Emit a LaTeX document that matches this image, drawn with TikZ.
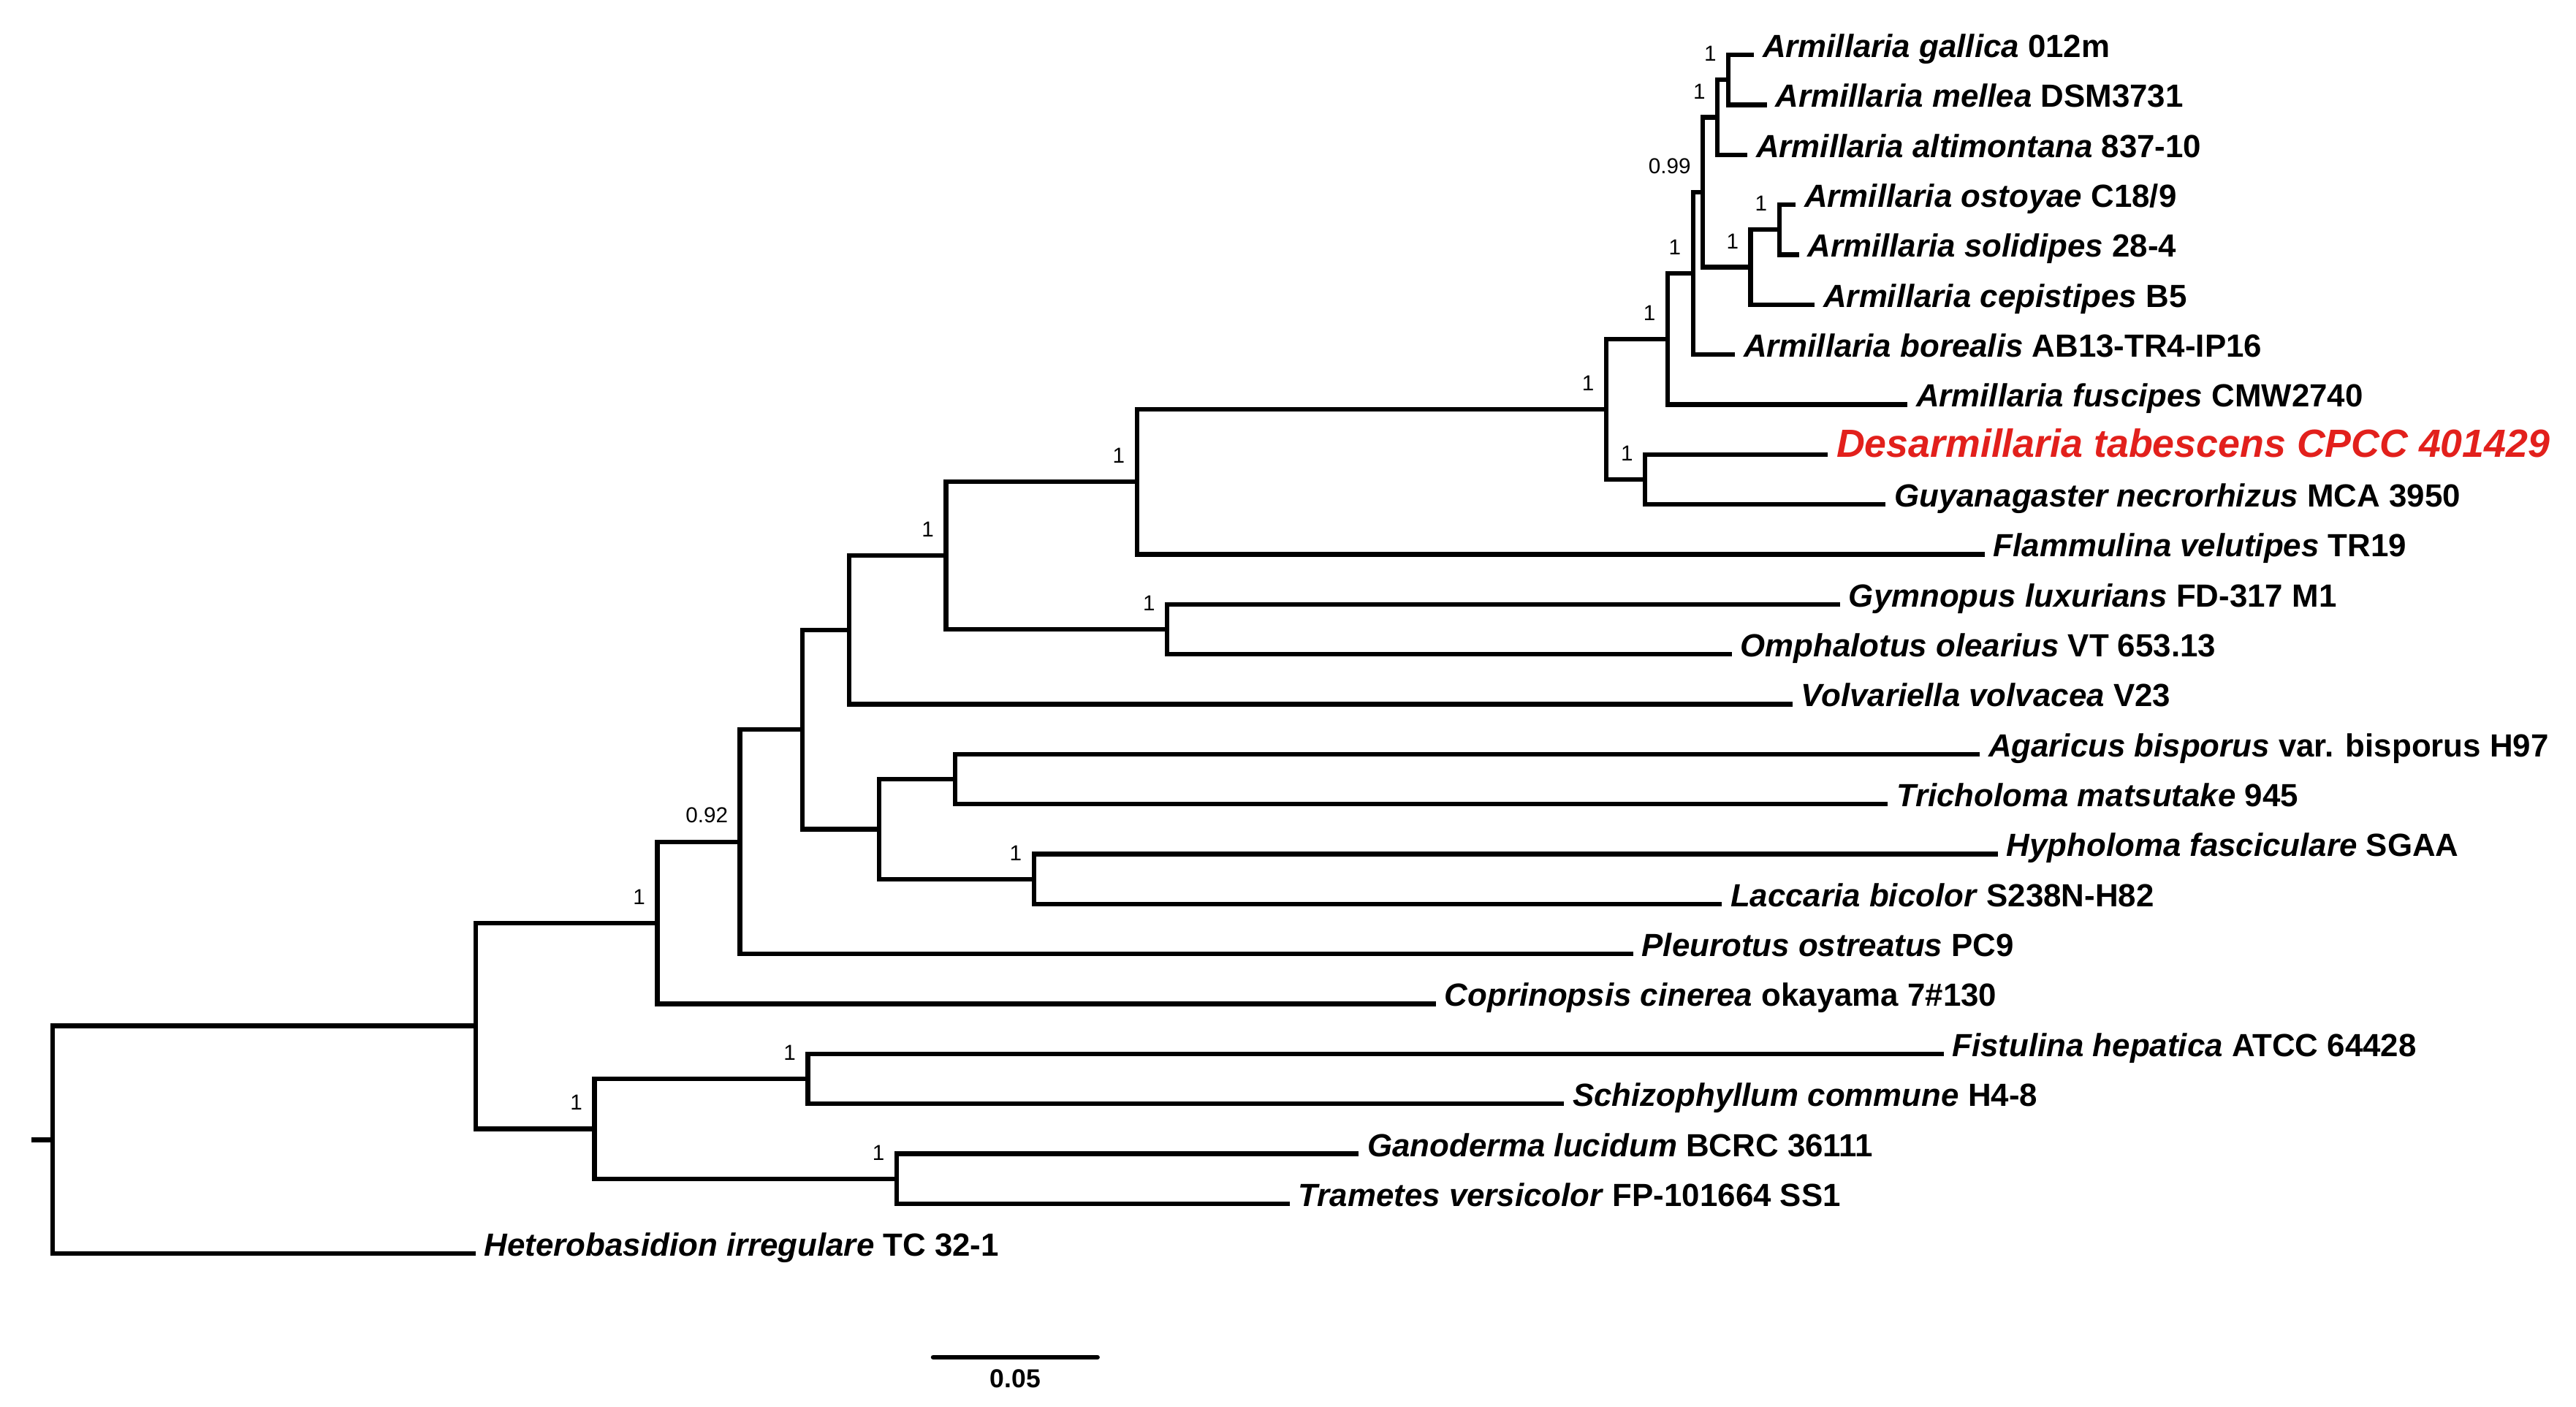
\documentclass[tikz,border=0pt]{standalone}
\usepackage{fontspec}
\setmainfont{Liberation Sans}
\usetikzlibrary{calc}
\definecolor{desred}{RGB}{226,32,28}
\newcommand{\taxon}[1]{\textit{#1}}
\tikzset{
  branch/.style={line width=1.6pt},
  tip/.style={anchor=base west, inner sep=0pt, xshift=1mm, yshift=-0.3mm, font=\fontsize{11.1}{13}\selectfont\bfseries},
  focal/.style={tip, text=desred, font=\fontsize{13.6}{16}\selectfont\bfseries\itshape},
  supp/.style={anchor=south east, inner sep=0pt, xshift=-1.4mm, yshift=2.2mm, font=\fontsize{7.5}{9}\selectfont},
}
\begin{document}
\begin{tikzpicture}[x=0.02cm, y=-0.02cm]
\useasboundingbox (0,0) rectangle (1568,856);

% tips
\coordinate (t1) at (1067.6,33.4);
\coordinate (t2) at (1075.4,63.8);
\coordinate (t3) at (1063.6,94.2);
\coordinate (t4) at (1093,124.6);
\coordinate (t5) at (1095,155.0);
\coordinate (t6) at (1104.6,185.4);
\coordinate (t7) at (1056,215.8);
\coordinate (t8) at (1161,246.2);
\coordinate (t9) at (1112.5,276.6);
\coordinate (t10) at (1147.7,307.0);
\coordinate (t11) at (1208,337.4);
\coordinate (t12) at (1120,367.8);
\coordinate (t13) at (1054,398.2);
\coordinate (t14) at (1091,428.6);
\coordinate (t15) at (1205,459.0);
\coordinate (t16) at (1149,489.4);
\coordinate (t17) at (1216,519.8);
\coordinate (t18) at (1048,550.2);
\coordinate (t19) at (994,580.6);
\coordinate (t20) at (874,611.0);
\coordinate (t21) at (1183,641.4);
\coordinate (t22) at (952,671.8);
\coordinate (t23) at (827,702.2);
\coordinate (t24) at (785,732.6);
\coordinate (t25) at (289.5,763.0);

% internal nodes
\coordinate (nGM) at (1052,48.6);
\coordinate (nGMA) at (1045.4,71.4);
\coordinate (nOS) at (1083,139.8);
\coordinate (nOSC) at (1065.6,162.6);
\coordinate (nX) at (1036.5,117);
\coordinate (nY) at (1030.5,166.4);
\coordinate (nZ) at (1015,206.3);
\coordinate (nDG) at (1001.3,291.8);
\coordinate (nW) at (977.7,249);
\coordinate (nV) at (692,293.2);
\coordinate (nGO) at (710.4,383);
\coordinate (nU) at (575.8,338.1);
\coordinate (nT) at (516.8,383.4);
\coordinate (nAT) at (581.3,474.2);
\coordinate (nHL) at (629.3,535);
\coordinate (nR) at (535.2,504.6);
\coordinate (nS) at (488.3,444);
\coordinate (nQ) at (450.4,512.3);
\coordinate (nP) at (400.1,561.7);
\coordinate (nFS) at (491.7,656.6);
\coordinate (nGT) at (545.7,717.4);
\coordinate (nN) at (361.8,687);
\coordinate (nO) at (289.5,624.3);
\coordinate (root) at (31.9,693.7);
\coordinate (stub) at (19.2,693.7);

% branches
\draw[branch] (nGM) |- (t1);
\draw[branch] (nGM) |- (t2);
\draw[branch] (nGMA) |- (nGM);
\draw[branch] (nGMA) |- (t3);
\draw[branch] (nOS) |- (t4);
\draw[branch] (nOS) |- (t5);
\draw[branch] (nOSC) |- (nOS);
\draw[branch] (nOSC) |- (t6);
\draw[branch] (nX) |- (nGMA);
\draw[branch] (nX) |- (nOSC);
\draw[branch] (nY) |- (nX);
\draw[branch] (nY) |- (t7);
\draw[branch] (nZ) |- (nY);
\draw[branch] (nZ) |- (t8);
\draw[branch] (nDG) |- (t9);
\draw[branch] (nDG) |- (t10);
\draw[branch] (nW) |- (nZ);
\draw[branch] (nW) |- (nDG);
\draw[branch] (nV) |- (nW);
\draw[branch] (nV) |- (t11);
\draw[branch] (nGO) |- (t12);
\draw[branch] (nGO) |- (t13);
\draw[branch] (nU) |- (nV);
\draw[branch] (nU) |- (nGO);
\draw[branch] (nT) |- (nU);
\draw[branch] (nT) |- (t14);
\draw[branch] (nAT) |- (t15);
\draw[branch] (nAT) |- (t16);
\draw[branch] (nHL) |- (t17);
\draw[branch] (nHL) |- (t18);
\draw[branch] (nR) |- (nAT);
\draw[branch] (nR) |- (nHL);
\draw[branch] (nS) |- (nT);
\draw[branch] (nS) |- (nR);
\draw[branch] (nQ) |- (nS);
\draw[branch] (nQ) |- (t19);
\draw[branch] (nP) |- (nQ);
\draw[branch] (nP) |- (t20);
\draw[branch] (nFS) |- (t21);
\draw[branch] (nFS) |- (t22);
\draw[branch] (nGT) |- (t23);
\draw[branch] (nGT) |- (t24);
\draw[branch] (nN) |- (nFS);
\draw[branch] (nN) |- (nGT);
\draw[branch] (nO) |- (nP);
\draw[branch] (nO) |- (nN);
\draw[branch] (root) |- (nO);
\draw[branch] (root) |- (t25);
\draw[branch] (stub) -- (root);

% taxa
\node[tip] (l1) at (t1) {\taxon{Armillaria gallica} 012m};
\node[tip] (l2) at (t2) {\taxon{Armillaria mellea} DSM3731};
\node[tip] (l3) at (t3) {\taxon{Armillaria altimontana} 837-10};
\node[tip] (l4) at (t4) {\taxon{Armillaria ostoyae} C18/9};
\node[tip] (l5) at (t5) {\taxon{Armillaria solidipes} 28-4};
\node[tip] (l6) at (t6) {\taxon{Armillaria cepistipes} B5};
\node[tip] (l7) at (t7) {\taxon{Armillaria borealis} AB13-TR4-IP16};
\node[tip] (l8) at (t8) {\taxon{Armillaria fuscipes} CMW2740};
\node[focal] (l9) at (t9) {Desarmillaria tabescens CPCC 401429};
\node[tip] (l10) at (t10) {\taxon{Guyanagaster necrorhizus} MCA 3950};
\node[tip] (l11) at (t11) {\taxon{Flammulina velutipes} TR19};
\node[tip] (l12) at (t12) {\taxon{Gymnopus luxurians} FD-317 M1};
\node[tip] (l13) at (t13) {\taxon{Omphalotus olearius} VT 653.13};
\node[tip] (l14) at (t14) {\taxon{Volvariella volvacea} V23};
\node[tip] (l15) at (t15) {\taxon{Agaricus bisporus} var. bisporus H97};
\node[tip] (l16) at (t16) {\taxon{Tricholoma matsutake} 945};
\node[tip] (l17) at (t17) {\taxon{Hypholoma fasciculare} SGAA};
\node[tip] (l18) at (t18) {\taxon{Laccaria bicolor} S238N-H82};
\node[tip] (l19) at (t19) {\taxon{Pleurotus ostreatus} PC9};
\node[tip] (l20) at (t20) {\taxon{Coprinopsis cinerea} okayama 7\#130};
\node[tip] (l21) at (t21) {\taxon{Fistulina hepatica} ATCC 64428};
\node[tip] (l22) at (t22) {\taxon{Schizophyllum commune} H4-8};
\node[tip] (l23) at (t23) {\taxon{Ganoderma lucidum} BCRC 36111};
\node[tip] (l24) at (t24) {\taxon{Trametes versicolor} FP-101664 SS1};
\node[tip] (l25) at (t25) {\taxon{Heterobasidion irregulare} TC 32-1};

% support values
\node[supp] (sGM) at (nGM) {1};
\node[supp] (sGMA) at (nGMA) {1};
\node[supp] (sX) at (nX) {0.99};
\node[supp] (sOS) at (nOS) {1};
\node[supp] (sOSC) at (nOSC) {1};
\node[supp] (sY) at (nY) {1};
\node[supp] (sZ) at (nZ) {1};
\node[supp] (sW) at (nW) {1};
\node[supp] (sDG) at (nDG) {1};
\node[supp] (sV) at (nV) {1};
\node[supp] (sU) at (nU) {1};
\node[supp] (sGO) at (nGO) {1};
\node[supp] (sHL) at (nHL) {1};
\node[supp] (sQ) at (nQ) {0.92};
\node[supp] (sP) at (nP) {1};
\node[supp] (sFS) at (nFS) {1};
\node[supp] (sN) at (nN) {1};
\node[supp] (sGT) at (nGT) {1};

% scale bar
\coordinate (sb1) at (568,826);
\coordinate (sb2) at (668,826);
\draw[branch, line cap=round] (sb1) -- (sb2);
\node[font=\fontsize{9}{11}\selectfont\bfseries, anchor=north, inner sep=0pt] (sblab) at ($(sb1)!0.5!(sb2)+(0,7)$) {0.05};
\end{tikzpicture}
\end{document}
